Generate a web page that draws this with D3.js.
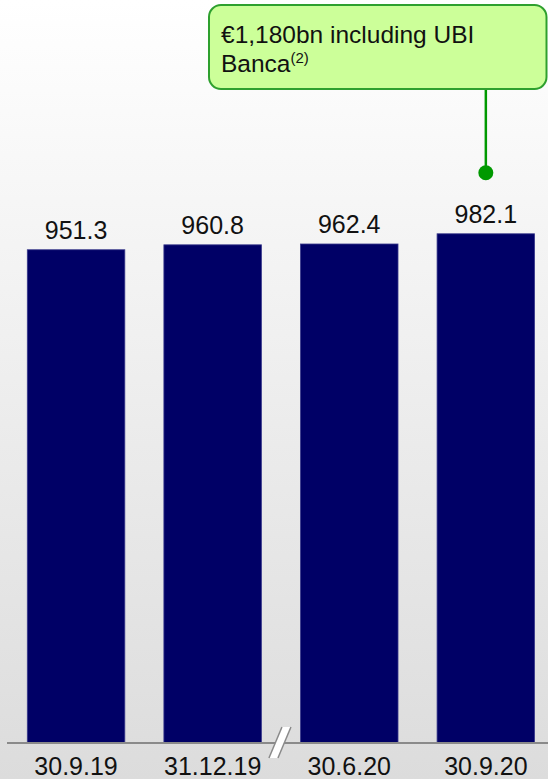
<!DOCTYPE html>
<html>
<head>
<meta charset="utf-8">
<script src="https://cdn.jsdelivr.net/npm/d3@7"></script>
<style>
  html, body { margin: 0; padding: 0; }
  body { width: 548px; height: 779px; overflow: hidden; }
  svg { display: block; font-family: "Liberation Sans", Arial, sans-serif; }
</style>
</head>
<body>
<svg id="chart" width="548" height="779"></svg>
<script>
const categories = ["30.9.19", "31.12.19", "30.6.20", "30.9.20"];
const values = [951.3, 960.8, 962.4, 982.1];
const valueLabels = ["951.3", "960.8", "962.4", "982.1"];
const calloutLine1 = "€1,180bn including UBI";
const calloutLine2 = "Banca";
const calloutSup = "(2)";

const W = 548, H = 779;
const svg = d3.select("#chart");

const defs = svg.append("defs");
const grad = defs.append("linearGradient").attr("id", "bg").attr("x1", 0).attr("y1", 0).attr("x2", 0).attr("y2", 1);
grad.append("stop").attr("offset", "0%").attr("stop-color", "#ffffff");
grad.append("stop").attr("offset", "100%").attr("stop-color", "#dcdcdc");
svg.append("rect").attr("width", W).attr("height", H).attr("fill", "url(#bg)");

const x = d3.scaleBand().domain(categories).range([27.3, 534.6]).paddingInner(0.286).paddingOuter(0);
const y = d3.scaleLinear().domain([0, 1000]).range([743, 224.5]);

// bars
svg.append("g").selectAll("rect").data(values).join("rect")
  .attr("x", (d, i) => x(categories[i]))
  .attr("y", d => y(d))
  .attr("width", x.bandwidth())
  .attr("height", d => y(0) - y(d))
  .attr("fill", "#000066")
  .attr("stroke", "#3a3a8c")
  .attr("stroke-width", 0.8);

// value labels
svg.append("g").selectAll("text").data(values).join("text")
  .attr("x", (d, i) => x(categories[i]) + x.bandwidth() / 2)
  .attr("y", d => y(d) - 11)
  .attr("text-anchor", "middle")
  .attr("font-size", 25)
  .attr("fill", "#111")
  .text((d, i) => valueLabels[i]);

// axis
const axis = svg.append("g").attr("transform", `translate(0,${y(0)})`)
  .call(d3.axisBottom(x).tickSize(0).tickPadding(14));
axis.select(".domain").remove();
axis.selectAll("text").attr("font-size", 25).attr("fill", "#111")
  .attr("font-family", "Liberation Sans, Arial, sans-serif");
svg.append("line").attr("x1", 7).attr("x2", W).attr("y1", y(0)).attr("y2", y(0))
  .attr("stroke", "#8a8a8a").attr("stroke-width", 2);

// break mark between 2nd and 3rd category
const bx = (x(categories[1]) + x.bandwidth() + x(categories[2])) / 2;
const by = y(0);
svg.append("polygon")
  .attr("points", [[bx - 12, by + 15], [bx - 3, by + 15], [bx + 10, by - 16], [bx + 1, by - 16]].map(p => p.join(",")).join(" "))
  .attr("fill", "#ffffff").attr("stroke", "none");
svg.append("line").attr("x1", bx - 12).attr("y1", by + 15).attr("x2", bx + 1).attr("y2", by - 16)
  .attr("stroke", "#8a8a8a").attr("stroke-width", 1.5);
svg.append("line").attr("x1", bx - 3).attr("y1", by + 15).attr("x2", bx + 10).attr("y2", by - 16)
  .attr("stroke", "#8a8a8a").attr("stroke-width", 1.5);

// callout
const cx = x(categories[3]) + x.bandwidth() / 2;
const dotY = y(values[3]) - 61;
svg.append("line").attr("x1", cx).attr("x2", cx).attr("y1", 89).attr("y2", dotY)
  .attr("stroke", "#009900").attr("stroke-width", 2.5);
svg.append("circle").attr("cx", cx).attr("cy", dotY).attr("r", 7.5).attr("fill", "#009900");
svg.append("rect").attr("x", 209).attr("y", 5).attr("width", 337.5).attr("height", 84)
  .attr("rx", 12).attr("ry", 12)
  .attr("fill", "#ccff99").attr("stroke", "#2ea02e").attr("stroke-width", 2);
svg.append("text").attr("x", 221).attr("y", 43).attr("font-size", 24.5).attr("fill", "#111").text(calloutLine1);
const t2 = svg.append("text").attr("x", 221).attr("y", 72).attr("font-size", 24.5).attr("fill", "#111");
t2.append("tspan").text(calloutLine2);
t2.append("tspan").attr("font-size", 15).attr("dy", -9).text(calloutSup);
</script>
</body>
</html>
